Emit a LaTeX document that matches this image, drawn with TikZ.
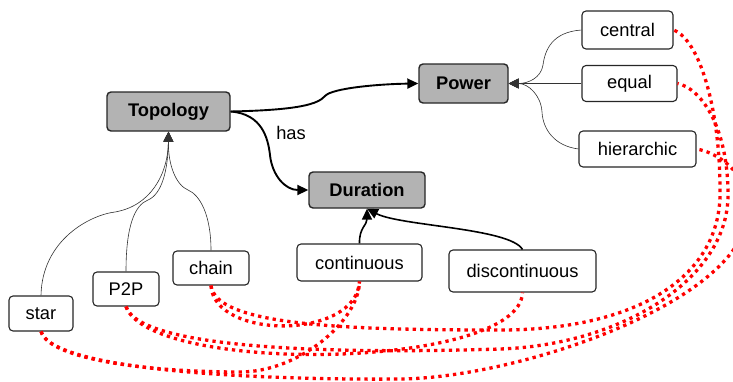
\documentclass[tikz,border=0pt]{standalone}
\usepackage{fontspec}
\setmainfont{Liberation Sans}
\usetikzlibrary{arrows.meta}
\definecolor{conceptfill}{HTML}{B3B3B3}
\definecolor{boxline}{HTML}{262626}
\tikzset{
  concept/.style={draw=boxline,fill=conceptfill,rounded corners=4pt,line width=1.4pt,
    font=\fontsize{18.3}{21}\selectfont\bfseries,inner sep=0pt},
  value/.style={draw=boxline,fill=white,rounded corners=4pt,line width=1.1pt,
    font=\fontsize{18.3}{21}\selectfont,inner sep=0pt},
  lbl/.style={font=\fontsize{18.3}{21}\selectfont,inner sep=0pt},
  isa/.style={-{Triangle[length=10pt,width=10pt]},line width=0.6pt,draw=black!80},
  rel/.style={-{Triangle[length=11pt,width=10pt]},line width=1.9pt},
  excl/.style={draw=red,line width=3.3pt,dash pattern=on 3.3pt off 4.1pt}
}
\begin{document}
\begin{tikzpicture}[x=1pt,y=-1pt]
  \useasboundingbox (0,0) rectangle (733,381);
  % concepts
  \node[concept,minimum width=123pt,minimum height=39pt] (topology) at (168.5,111.5) {Topology};
  \node[concept,minimum width=89pt,minimum height=39pt] (power) at (463.5,83.5) {Power};
  \node[concept,minimum width=116pt,minimum height=36pt] (duration) at (367,190) {Duration};
  % values
  \node[value,minimum width=91pt,minimum height=38pt] (central) at (627.5,30) {central};
  \node[value,minimum width=95pt,minimum height=36pt] (equal) at (629.5,83.5) {equal};
  \node[value,minimum width=117pt,minimum height=36pt] (hierarchic) at (637.5,149) {hierarchic};
  \node[value,minimum width=64pt,minimum height=35pt] (star) at (41,313.5) {star};
  \node[value,minimum width=66pt,minimum height=34pt] (ptp) at (126,289) {P2P};
  \node[value,minimum width=76pt,minimum height=34pt] (chain) at (211,268) {chain};
  \node[value,minimum width=125pt,minimum height=37pt] (continuous) at (359.5,262.5) {continuous};
  \node[value,minimum width=147pt,minimum height=42pt] (discontinuous) at (522.5,271) {discontinuous};
  % relations
  \draw[rel] (topology.east) .. controls (300,110) and (318,104) .. (325,96)
    .. controls (332,88) and (380,84) .. (power.west);
  \draw[rel] (topology.east) .. controls (262,114) and (268,138) .. (270,155)
    .. controls (272,175) and (285,190) .. (duration.west);
  \node[lbl] (hasl) at (291,133) {has};
  \draw[rel,line width=1.6pt] (continuous.north) .. controls (359,228) and (367,225) .. (duration.south);
  \draw[rel,line width=1.6pt] (discontinuous.north) .. controls (510,228) and (400,226) .. (duration.south);
  % specialisations
  \draw[isa] (star.north) .. controls (42,240) and (90,215) .. (115,212)
    .. controls (150,206) and (168,175) .. (topology.south);
  \draw[isa] (ptp.north) .. controls (126,225) and (135,205) .. (148,200)
    .. controls (162,194) and (168,170) .. (topology.south);
  \draw[isa] (chain.north) .. controls (211,215) and (200,195) .. (188,190)
    .. controls (176,185) and (168,165) .. (topology.south);
  \draw[isa] (central.west) .. controls (552,32) and (545,50) .. (543,65)
    .. controls (541,78) and (528,83.5) .. (power.east);
  \draw[isa] (equal.west) -- (power.east);
  \draw[isa] (hierarchic.west) .. controls (555,146) and (543,130) .. (542,112)
    .. controls (541,95) and (528,83.5) .. (power.east);
  % exclusions
  \draw[excl] (chain.south) .. controls (216,325) and (340,330) .. (500,330)
    .. controls (640,330) and (722,275) .. (720,190)
    .. controls (720,110) and (700,40) .. (central.east);
  \draw[excl] (ptp.south) .. controls (140,350) and (340,354) .. (500,349)
    .. controls (620,345) and (728,280) .. (728,195)
    .. controls (728,125) and (700,88) .. (equal.east);
  \draw[excl] (star.south) .. controls (55,375) and (300,380) .. (400,379)
    .. controls (520,378) and (748,300) .. (748,210)
    .. controls (748,170) and (715,152) .. (hierarchic.east);
  \draw[excl] (star.south) .. controls (50,360) and (150,372) .. (240,372)
    .. controls (300,372) and (359,320) .. (continuous.south);
  \draw[excl] (chain.south) .. controls (214,340) and (356,340) .. (continuous.south);
  \draw[excl] (ptp.south) .. controls (150,375) and (520,370) .. (discontinuous.south);
\end{tikzpicture}
\end{document}
